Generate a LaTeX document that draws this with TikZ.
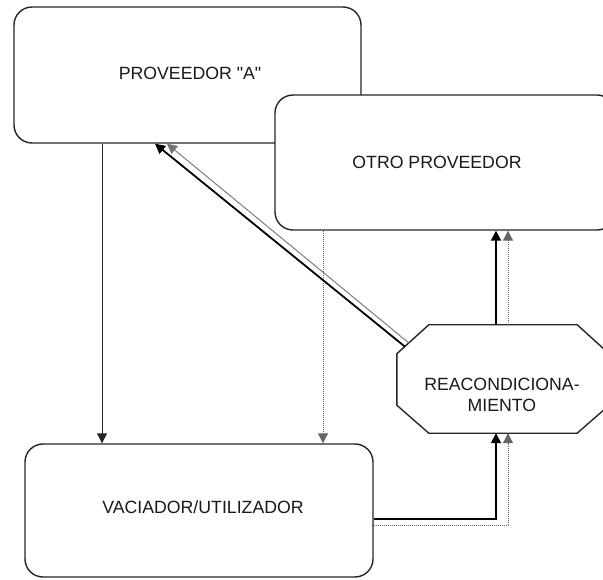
\documentclass[tikz,border=0pt]{standalone}
\usepackage{fontspec}
\setmainfont{Liberation Sans}[Ligatures=TeXOff]
\usetikzlibrary{arrows.meta,calc}

\tikzset{
  box/.style={draw=black!85, line width=1.4pt, rounded corners=18pt, fill=white, inner sep=0pt},
  lbl/.style={font=\fontsize{17.7}{21}\selectfont, text=black!90, inner sep=0pt, align=center},
  tip/.style={-{Triangle[length=10pt,width=10pt]}},
  thin flow/.style={tip, draw=black!85, line width=1pt},
  main flow/.style={tip, draw=black, line width=1.8pt},
  dotted flow/.style={tip, draw=black!60, line width=1pt, densely dotted},
  grey flow/.style={tip, draw=black!55, line width=0.9pt},
}

\begin{document}
\begin{tikzpicture}[x=1pt,y=-1pt]
  \useasboundingbox (0,0) rectangle (603,580);

  % suppliers and user
  \node[box, minimum width=347pt, minimum height=136pt] (prova) at (187.5,75) {};
  \node[lbl] (provatext) at (190,73) {PROVEEDOR "A"};
  \node[box, minimum width=340pt, minimum height=135pt] (otro) at (445,162.5) {};
  \node[lbl] (otrotext) at (437,162) {OTRO PROVEEDOR};
  \node[box, minimum width=348pt, minimum height=133pt] (vac) at (199,510.5) {};
  \node[lbl] (vactext) at (203,507) {VACIADOR/UTILIZADOR};

  % reconditioning octagon
  \node[minimum width=212pt, minimum height=108pt, inner sep=0pt] (reac) at (503,379) {};
  \coordinate (o1) at ([xshift=32pt]reac.north west);
  \coordinate (o2) at ([xshift=-32pt]reac.north east);
  \coordinate (o3) at ([yshift=-29pt]reac.north east);
  \coordinate (o4) at ([yshift=28pt]reac.south east);
  \coordinate (o5) at ([xshift=-32pt]reac.south east);
  \coordinate (o6) at ([xshift=32pt]reac.south west);
  \coordinate (o7) at ([yshift=28pt]reac.south west);
  \coordinate (o8) at ([yshift=-29pt]reac.north west);
  \draw[fill=white, draw=black!85, line width=1.4pt, line join=miter]
    (o1) -- (o2) -- (o3) -- (o4) -- (o5) -- (o6) -- (o7) -- (o8) -- cycle;
  \node[lbl] (reactext) at (502,395) {REACONDICIONA-\\MIENTO};

  % connector columns and rows
  \coordinate (ca) at (102,0);
  \coordinate (cb) at (323,0);
  \coordinate (cs) at (496,0);
  \coordinate (cd) at (508,0);
  \coordinate (rs) at (0,519);
  \coordinate (rd) at (0,525);
  \coordinate (ea) at (155,0);
  \coordinate (eb) at (167,0);
  \coordinate (sa) at ($(o8)!0.25!(o1)$);
  \coordinate (sb) at ($(o8)!0.375!(o1)$);

  % supplier A to user
  \draw[thin flow] (prova.south -| ca) -- (vac.north -| ca);
  % other supplier to user
  \draw[dotted flow] (otro.south -| cb) -- (vac.north -| cb);
  % reconditioning back to supplier A
  \draw[main flow] (sa) -- (prova.south -| ea);
  \draw[grey flow] (sb) -- (prova.south -| eb);
  % reconditioning to other supplier
  \draw[main flow] (reac.north -| cs) -- (otro.south -| cs);
  \draw[dotted flow] (reac.north -| cd) -- (otro.south -| cd);
  % user to reconditioning
  \draw[main flow] (vac.east |- rs) -| (reac.south -| cs);
  \draw[dotted flow] (vac.east |- rd) -| (reac.south -| cd);
\end{tikzpicture}
\end{document}
